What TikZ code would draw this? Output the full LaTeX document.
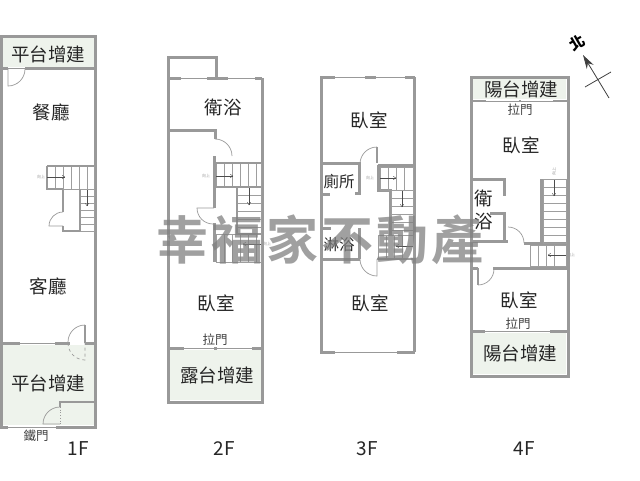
\documentclass[tikz,border=0pt]{standalone}
\usepackage{fontspec}
\setmainfont{Noto Sans CJK TC}
\newfontfamily\markfont[LetterSpace=6,BoldFont={Noto Sans CJK TC Bold}]{Noto Sans CJK TC}
\usetikzlibrary{arrows.meta}

\tikzset{
  wall/.style={draw=wallgray,line width=3pt},
  midwall/.style={draw=wallgray,line width=1.8pt},
  thinwall/.style={draw=wallgray,line width=.7pt},
  doorleaf/.style={draw=wallgray,line width=.7pt},
  stairline/.style={draw=stairgray,line width=.6pt},
  stairarrow/.style={-{To[length=3pt,width=4pt]},draw=black!70,line width=.4pt},
  deck/.style={fill=deckgreen,draw=none},
  room/.style={font=\fontsize{18.5}{18.5}\selectfont,inner sep=0pt,text=black!85},
  smallroom/.style={font=\fontsize{15.5}{15.5}\selectfont,inner sep=0pt,text=black!85},
  doorname/.style={font=\fontsize{12.5}{12.5}\selectfont,inner sep=0pt,text=black!75},
  floorname/.style={font=\fontsize{19}{19}\selectfont,inner sep=0pt,text=black!85},
  tinyname/.style={font=\fontsize{4}{4}\selectfont,inner sep=0pt,text=black!40}
}
\definecolor{wallgray}{gray}{.6}
\definecolor{stairgray}{gray}{.62}
\definecolor{deckgreen}{HTML}{EEF3EC}

\begin{document}
\begin{tikzpicture}[x=1pt,y=-1pt,>={Stealth[length=14pt,width=8pt]}]
    \useasboundingbox (0,0) rectangle (640,480);

    % 1F
    \fill[deck] (2,37) rectangle (94,67);
    \fill[deck] (2,345) rectangle (94,425);
    \draw[wall] (1,68) -- (1,36) -- (95,36) -- (95,68);
    \draw[wall] (1,68) -- (1,427) -- (8,427);
    \draw[wall] (95,68) -- (95,427) -- (56,427);
    \draw[wall] (1,68) -- (8,68) (25,68) -- (95,68);
    \draw[thinwall] (8,68) -- (25,68) (8,427) -- (56,427) (20,343) -- (55,343);
    \draw[doorleaf] (8,68) -- (8,86) arc[start angle=270,end angle=360,radius=17pt];
    \draw[wall] (1,343) -- (20,343) (55,343) -- (70,343) (85,343) -- (95,343);
    \draw[midwall] (85,325) -- (85,343);
    \draw[doorleaf] (85,325) arc[start angle=90,end angle=180,radius=17pt];
    \draw[doorleaf,dashed] (68,343) arc[start angle=180,end angle=270,radius=17pt] -- (85,343);
    \draw[midwall] (95,402) -- (60,402) -- (60,407);
    \draw[doorleaf] (60,407) arc[start angle=90,end angle=180,radius=17pt] -- (60,424);
    \draw[doorleaf,dotted] (60,407) -- (60,424);
    \draw[midwall] (63,189) -- (63,212) (63,226) -- (63,231) -- (80,231);
    \draw[doorleaf] (63,212) arc[start angle=90,end angle=180,radius=14pt] -- (63,226);
    \draw[stairline] (47,166) rectangle (94,189);
    \draw[stairline] (80,189) rectangle (94,231);
    \foreach \tx in {55,63,71,79,87} \draw[stairline] (\tx,166) -- (\tx,189);
    \foreach \ty in {196,203,210,217,224} \draw[stairline] (80,\ty) -- (94,\ty);
    \draw[midwall,line width=1.2pt] (47,166) -- (47,189) -- (63,189);
    \draw[midwall,line width=1.2pt] (47,166) -- (94,166);
    \draw[midwall,line width=1.2pt] (80,189) -- (80,231);
    \draw[stairarrow] (47,177) -- (65,177);
    \draw[stairarrow] (87,190) -- (87,206);
    \node[tinyname] (upA) at (41,177) {向上};

    % 2F
    \fill[deck] (170,350) rectangle (261,400);
    \draw[wall] (168,78) -- (168,57) -- (216,57) -- (216,78);
    \draw[wall] (168,78) -- (168,402) -- (262,402) -- (262,78);
    \draw[wall] (168,78) -- (181,78) (207,78) -- (228,78) (255,78) -- (262,78);
    \draw[thinwall] (181,78) -- (207,78) (228,78) -- (255,78) (184,348) -- (252,348);
    \draw[wall] (168,348) -- (184,348) (214,348) -- (217,348) (252,348) -- (262,348);
    \draw[wall] (168,130) -- (215,130) -- (215,139);
    \draw[doorleaf] (215,139) arc[start angle=90,end angle=0,radius=17pt];
    \draw[wall] (214,156) -- (214,208) (214,223) -- (214,262);
    \draw[doorleaf] (214,208) -- (197,208) arc[start angle=180,end angle=270,radius=16pt];
    \draw[stairline] (216,163) rectangle (261,187);
    \foreach \tx in {224,232,240,248,256} \draw[stairline] (\tx,163) -- (\tx,187);
    \draw[stairline] (237,187) rectangle (261,234);
    \foreach \ty in {195,203,211,219,227} \draw[stairline] (237,\ty) -- (261,\ty);
    \draw[stairline] (216,234) rectangle (261,262);
    \foreach \tx in {224,232,240,248,256} \draw[stairline] (\tx,234) -- (\tx,262);
    \draw[midwall,line width=1.2pt] (216,163) -- (261,163) (216,187) -- (261,187);
    \draw[midwall] (237,187) -- (237,234) -- (261,234);
    \draw[stairarrow] (216,176) -- (233,176);
    \draw[stairarrow] (249,188) -- (249,205);
    \draw[stairarrow] (261,244) -- (243,244);
    \node[tinyname] (upB) at (206,176) {向上};
    \node[tinyname] (downB) at (267,244) {向上};

    % 3F
    \draw[wall] (321,352) -- (321,77) (414,77) -- (414,352);
    \draw[wall] (320,77) -- (335,77) (365,77) -- (376,77) (405,77) -- (415,77);
    \draw[thinwall] (335,77) -- (365,77) (376,77) -- (405,77) (335,352) -- (397,352);
    \draw[wall] (320,352) -- (335,352) (397,352) -- (415,352);
    \draw[midwall] (377,147) -- (377,163);
    \draw[doorleaf] (377,147) arc[start angle=90,end angle=180,radius=17pt];
    \draw[wall] (321,163) -- (359,163) -- (359,193) -- (355,193) (321,194) -- (330,194);
    \draw[wall] (378,165) -- (414,165) (378,165) -- (378,190) -- (390,190) -- (390,235);
    \draw[wall] (321,228) -- (331,228) (359,228) -- (359,259) (321,259) -- (360,259);
    \draw[doorleaf] (360,259) arc[start angle=180,end angle=270,radius=17pt] -- (377,259);
    \draw[midwall] (377,259) -- (414,259);
    \draw[stairline] (380,167) rectangle (413,190);
    \foreach \tx in {388,396,404} \draw[stairline] (\tx,167) -- (\tx,190);
    \draw[stairline] (391,190) rectangle (413,235);
    \foreach \ty in {198,206,214,222,230} \draw[stairline] (391,\ty) -- (413,\ty);
    \draw[stairline] (378,235) rectangle (413,258);
    \foreach \tx in {386,394,402} \draw[stairline] (\tx,235) -- (\tx,258);
    \draw[stairarrow] (380,178) -- (396,178);
    \draw[stairarrow] (402,191) -- (402,207);
    \draw[stairarrow] (413,246) -- (396,246);
    \node[tinyname] (upC) at (370,178) {向上};

    % 4F
    \fill[deck] (473,79) rectangle (566,99);
    \fill[deck] (473,333) rectangle (566,374);
    \draw[wall] (471,77) -- (568,77) -- (568,376) -- (471,376) -- cycle;
    \draw[thinwall] (486,101) -- (553,101) (485,331) -- (550,331);
    \draw[midwall] (471,101) -- (486,101) (519,101) -- (521,101) (553,101) -- (568,101);
    \draw[wall] (471,331) -- (485,331) (550,331) -- (568,331);
    \draw[wall] (471,179) -- (504,179) -- (504,196) (490,213) -- (504,213) -- (504,241) (471,241) -- (508,241);
    \draw[doorleaf] (508,227) arc[start angle=90,end angle=0,radius=16pt];
    \draw[wall] (541,179) -- (541,243) (524,243) -- (568,243) (493,268) -- (568,268) (471,268) -- (478,268);
    \draw[midwall] (478,268) -- (478,285);
    \draw[doorleaf] (478,285) arc[start angle=270,end angle=360,radius=16pt];
    \draw[stairline] (543,179) rectangle (566,243);
    \foreach \ty in {187,195,203,211,219,227,235} \draw[stairline] (543,\ty) -- (566,\ty);
    \draw[stairline] (530,245) rectangle (566,266);
    \foreach \tx in {538,546,554} \draw[stairline] (\tx,245) -- (\tx,266);
    \draw[stairarrow] (554,180) -- (554,196);
    \draw[stairarrow] (566,255) -- (548,255);
    \node[tinyname,rotate=90] (upD) at (554,171) {向上};
    \node[tinyname] (downD) at (571,255) {向上};

    % room names
    \node[room] (deckTopA) at (48,54) {平台增建};
    \node[room] (diningA) at (51,112) {餐廳};
    \node[room] (livingA) at (48,286) {客廳};
    \node[room] (deckLowA) at (48,383) {平台增建};
    \node[doorname] (gateA) at (36,436) {鐵門};
    \node[floorname] (floorA) at (78,449) {1F};
    \node[room] (bathB) at (223,107) {衛浴};
    \node[room] (bedB) at (216,303) {臥室};
    \node[doorname] (slideB) at (215,340) {拉門};
    \node[room] (deckB) at (217,375) {露台增建};
    \node[floorname] (floorB) at (224,449) {2F};
    \node[room] (bedTopC) at (369,120) {臥室};
    \node[smallroom] (toiletC) at (339,182) {廁所};
    \node[smallroom] (showerC) at (339,245) {淋浴};
    \node[room] (bedLowC) at (370,303) {臥室};
    \node[floorname] (floorC) at (367,449) {3F};
    \node[room] (deckTopD) at (521,89) {陽台增建};
    \node[doorname] (slideTopD) at (520,110) {拉門};
    \node[room] (bedTopD) at (521,145) {臥室};
    \node[room] (bathTopD) at (484,198) {衛};
    \node[room] (bathLowD) at (484,222) {浴};
    \node[room] (bedLowD) at (519,300) {臥室};
    \node[doorname] (slideLowD) at (518,324) {拉門};
    \node[room] (deckLowD) at (520,353) {陽台增建};
    \node[floorname] (floorD) at (524,449) {4F};

    % north mark
    \coordinate (northTail) at (609,98);
    \coordinate (northHead) at (583,55);
    \coordinate (crossA) at (585,87);
    \coordinate (crossB) at (611,72);
    \node[font=\bfseries\fontsize{15}{15}\selectfont,rotate=30,inner sep=0pt,text=black] (northName) at (577,43) {北};
    \draw[->,black!75,line width=.8pt] (northTail) -- (northHead);
    \draw[black!75,line width=.8pt] (crossA) -- (crossB);

    % watermark
    \node[font=\markfont\bfseries\fontsize{52}{52}\selectfont,inner sep=0pt,text=black!50,opacity=.75] (markName) at (320,240) {幸福家不動產};
\end{tikzpicture}
\end{document}
